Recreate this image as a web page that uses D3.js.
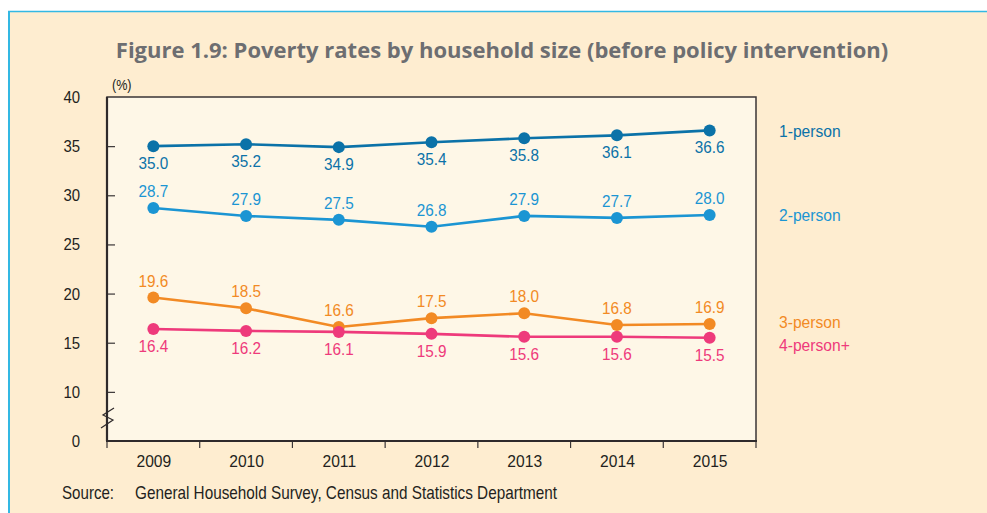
<!DOCTYPE html>
<html>
<head>
<meta charset="utf-8">
<script src="https://cdn.jsdelivr.net/npm/d3@7"></script>
<style>
  body { margin: 0; background: #fff; }
  svg { display: block; }
</style>
</head>
<body>
<svg id="chart" width="987" height="513"></svg>
<script>
const years = ["2009", "2010", "2011", "2012", "2013", "2014", "2015"];
const onePerson = [35.0, 35.2, 34.9, 35.4, 35.8, 36.1, 36.6];
const twoPerson = [28.7, 27.9, 27.5, 26.8, 27.9, 27.7, 28.0];
const threePerson = [19.6, 18.5, 16.6, 17.5, 18.0, 16.8, 16.9];
const fourPerson = [16.4, 16.2, 16.1, 15.9, 15.6, 15.6, 15.5];
const seriesNames = ["1-person", "2-person", "3-person", "4-person+"];
const yTicks = [5, 10, 15, 20, 25, 30, 35, 40];
const yTickLabels = ["0", "10", "15", "20", "25", "30", "35", "40"];

const series = [
  { name: seriesNames[0], vals: onePerson, color: "#0b72a8", labelPos: "below", legendY: 131 },
  { name: seriesNames[1], vals: twoPerson, color: "#1b95d3", labelPos: "above", legendY: 215 },
  { name: seriesNames[2], vals: threePerson, color: "#f28a24", labelPos: "above", legendY: 322 },
  { name: seriesNames[3], vals: fourPerson, color: "#ee3a7b", labelPos: "below", legendY: 345 }
];

const plotL = 107, plotR = 756, plotT = 97, plotB = 441;
const font = "'Liberation Sans', Arial, sans-serif";
const textColor = "#231f20";

const svg = d3.select("#chart");

// condensed-looking text: squeeze horizontally around the anchor point
function narrowText(parent, x, y, str, size, sx, color, anchor) {
  return parent.append("text")
    .attr("transform", `translate(${x},${y}) scale(${sx},1)`)
    .attr("text-anchor", anchor || "start")
    .attr("font-family", font)
    .attr("font-size", size)
    .attr("fill", color || textColor)
    .text(str);
}

// outer panel
svg.append("rect")
  .attr("x", 8).attr("y", 11)
  .attr("width", 990).attr("height", 520)
  .attr("fill", "#feedd0");
svg.append("line")
  .attr("x1", 8).attr("x2", 987).attr("y1", 11.5).attr("y2", 11.5)
  .attr("stroke", "#33b8e3").attr("stroke-width", 1.5);
svg.append("line")
  .attr("x1", 9).attr("x2", 9).attr("y1", 11).attr("y2", 513)
  .attr("stroke", "#33b8e3").attr("stroke-width", 2);

// title
svg.append("text")
  .attr("x", 502).attr("y", 58)
  .attr("text-anchor", "middle")
  .attr("font-family", "'Open Sans', 'Noto Sans', sans-serif")
  .attr("font-weight", "bold")
  .attr("font-size", 22)
  .attr("fill", "#6d6e71")
  .text("Figure 1.9: Poverty rates by household size (before policy intervention)");

const xBand = d3.scaleBand().domain(years).range([plotL, plotR]).padding(0);
const xPoint = d3.scalePoint().domain(years).range([plotL, plotR]).padding(0.5);
const y = d3.scaleLinear().domain([5, 40]).range([plotB, plotT]);

// plot area
svg.append("rect")
  .attr("x", plotL).attr("y", plotT)
  .attr("width", plotR - plotL).attr("height", plotB - plotT)
  .attr("fill", "#fef7e7")
  .attr("stroke", "#3a3536").attr("stroke-width", 1.5);

// y axis
const ySx = 0.88;
const yAxis = d3.axisLeft(y)
  .tickValues(yTicks)
  .tickSize(-8)
  .tickPadding(27)
  .tickFormat((d, i) => yTickLabels[i]);
const gy = svg.append("g").attr("transform", `translate(${plotL},0)`).call(yAxis);
gy.select(".domain").remove();
gy.selectAll(".tick line").attr("stroke", "#3a3536").attr("stroke-width", 1.2)
  .filter((d) => d === 5 || d === 40).remove();
gy.selectAll(".tick text")
  .attr("x", -27 / ySx)
  .attr("transform", `scale(${ySx},1)`)
  .attr("font-family", font).attr("font-size", 17).attr("fill", textColor);

// x axis
const xAxis = d3.axisBottom(xPoint).tickSize(0).tickPadding(14);
const gx = svg.append("g").attr("transform", `translate(0,${plotB})`).call(xAxis);
gx.select(".domain").remove();
gx.selectAll(".tick text")
  .attr("transform", "scale(0.92,1)")
  .attr("font-family", font).attr("font-size", 17).attr("fill", textColor);

svg.selectAll(".xtick")
  .data(years.concat(["end"]))
  .enter()
  .append("line")
  .attr("class", "xtick")
  .attr("x1", (d) => (d === "end" ? plotR : xBand(d)))
  .attr("x2", (d) => (d === "end" ? plotR : xBand(d)))
  .attr("y1", plotB).attr("y2", plotB + 7)
  .attr("stroke", "#3a3536").attr("stroke-width", 1.2);

// heavier left and bottom frame
svg.append("line")
  .attr("x1", plotL).attr("x2", plotL).attr("y1", plotT).attr("y2", plotB)
  .attr("stroke", "#2f2a2b").attr("stroke-width", 2.2);
svg.append("line")
  .attr("x1", plotL - 1).attr("x2", plotR + 1).attr("y1", plotB).attr("y2", plotB)
  .attr("stroke", "#2f2a2b").attr("stroke-width", 2.2);

// axis break
svg.append("path")
  .attr("d", "M101,428 L113,420 L103,415 L114,408")
  .attr("fill", "none")
  .attr("stroke", "#2f2a2b").attr("stroke-width", 1.2);

// "(%)"
narrowText(svg, 112, 90, "(%)", 14, 0.9);

// lines, points, labels
const line = d3.line()
  .x((d, i) => xPoint(years[i]))
  .y((d) => y(d));

series.forEach((s) => {
  const g = svg.append("g");
  g.append("path")
    .datum(s.vals)
    .attr("d", line)
    .attr("fill", "none")
    .attr("stroke", s.color)
    .attr("stroke-width", 2.6);

  g.selectAll("circle")
    .data(s.vals)
    .enter()
    .append("circle")
    .attr("cx", (d, i) => xPoint(years[i]))
    .attr("cy", (d) => y(d))
    .attr("r", 6)
    .attr("fill", s.color);

  s.vals.forEach((d, i) => {
    const ty = y(d) + (s.labelPos === "below" ? 23 : -11);
    narrowText(g, xPoint(years[i]), ty, d.toFixed(1), 17, 0.9, s.color, "middle");
  });

  narrowText(svg, 779, s.legendY + 6, s.name, 17, 0.92, s.color);
});

// source
narrowText(svg, 62, 499, "Source:", 18, 0.84);
narrowText(svg, 135, 499, "General Household Survey, Census and Statistics Department", 18, 0.85);
</script>
</body>
</html>
